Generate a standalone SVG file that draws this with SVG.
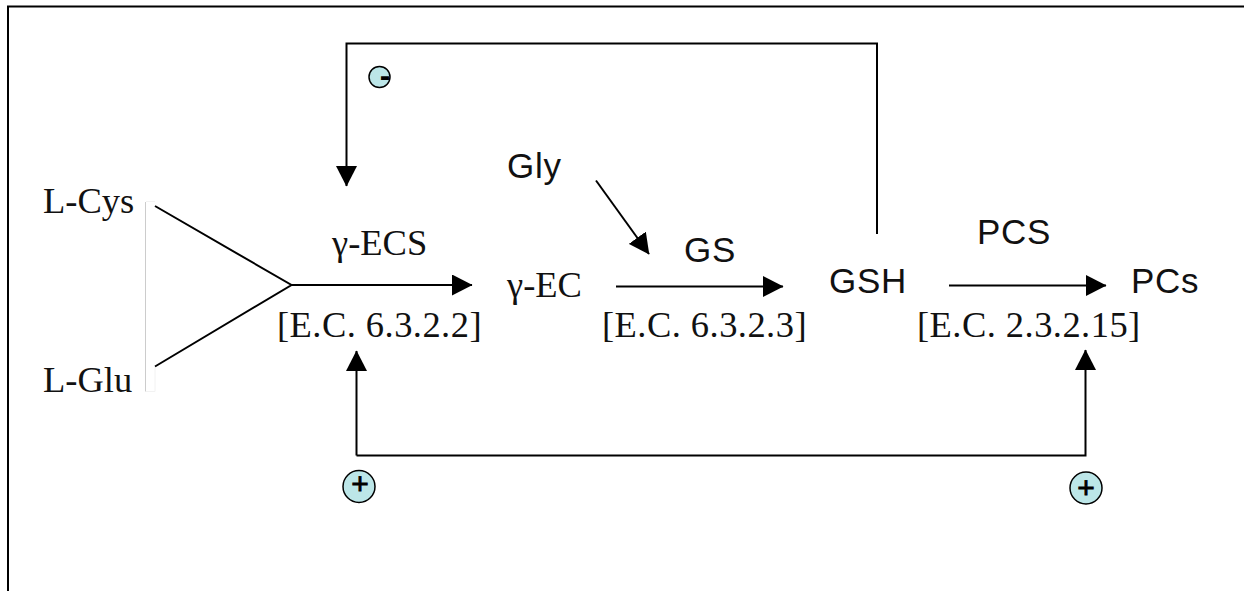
<svg xmlns="http://www.w3.org/2000/svg" width="1244" height="591" viewBox="0 0 1244 591">
<style>
.s{font-family:"Liberation Serif","Times New Roman",serif;font-size:36.5px;fill:#111}
.e{letter-spacing:.45px}
.a{font-family:"Liberation Sans",Arial,sans-serif;font-size:35px;letter-spacing:.7px;fill:#111}
.c{fill:none;stroke:#000;stroke-width:2}
.b{fill:#bce6e8;stroke:#000;stroke-width:1.5}
.g{font-family:"Liberation Sans",Arial,sans-serif;fill:#000;text-anchor:middle}
.p{stroke:#000;stroke-width:.8}
</style>
<defs><marker id="h" markerUnits="userSpaceOnUse" markerWidth="21" markerHeight="21" refX="20" refY="10.5" orient="auto"><path d="M0 0L20.500 10.500L0 21Z" fill="#000"/></marker></defs>
<rect width="1244" height="591" fill="#fff"/>
<path id="frame" d="M8 591V6.500H1244" fill="none" stroke="#000" stroke-width="2"/>
<path d="M146 391.500H155V367M146 201.500H155" fill="none" stroke="#f2f2f2" stroke-width="1"/>
<path d="M145.500 202V391.500" fill="none" stroke="#ccc" stroke-width="1"/>
<g id="connectors">
<path class="c" d="M155 206L291.500 285L155 366.500"/>
<path class="c" d="M291 285H472" marker-end="url(#h)"/>
<path class="c" d="M616 286.500H783" marker-end="url(#h)"/>
<path class="c" d="M949 285.500H1106" marker-end="url(#h)"/>
<path class="c" d="M596 180.500L649 254" marker-end="url(#h)"/>
<path class="c" d="M877 234V43.500H346.500V186" marker-end="url(#h)"/>
<path class="c" d="M356.500 455.500H1085.500V350" marker-end="url(#h)"/>
<path class="c" d="M356.500 455.500V351" marker-end="url(#h)"/>
</g>
<g id="n-lcys"><text class="s" x="43" y="213">L-Cys</text></g>
<g id="n-lglu"><text class="s" x="43" y="392">L-Glu</text></g>
<g id="n-ecs"><text class="s" x="332" y="255">γ-ECS</text></g>
<g id="n-ec1"><text class="s e" x="277" y="337">[E.C. 6.3.2.2]</text></g>
<g id="n-ec"><text class="s" x="507" y="297">γ-EC</text></g>
<g id="n-gly"><text class="a" x="507" y="178">Gly</text></g>
<g id="n-gs"><text class="a" x="684" y="262">GS</text></g>
<g id="n-ec2"><text class="s e" x="602" y="337">[E.C. 6.3.2.3]</text></g>
<g id="n-gsh"><text class="a" x="829" y="293">GSH</text></g>
<g id="n-pcs"><text class="a" x="977" y="243.500">PCS</text></g>
<g id="n-pcs2"><text class="a" x="1131" y="293">PCs</text></g>
<g id="n-ec3"><text class="s e" x="917" y="337">[E.C. 2.3.2.15]</text></g>
<g id="minus"><circle class="b" cx="379.500" cy="77" r="10.500"/><text class="g" x="385" y="85.500" font-size="32" font-weight="bold">-</text></g>
<g id="plus1"><circle class="b" cx="359" cy="486.500" r="16"/><text class="g p" x="360" y="494" font-size="30">+</text></g>
<g id="plus2"><circle class="b" cx="1086" cy="488" r="16"/><text class="g p" x="1086" y="498" font-size="30">+</text></g>
</svg>
